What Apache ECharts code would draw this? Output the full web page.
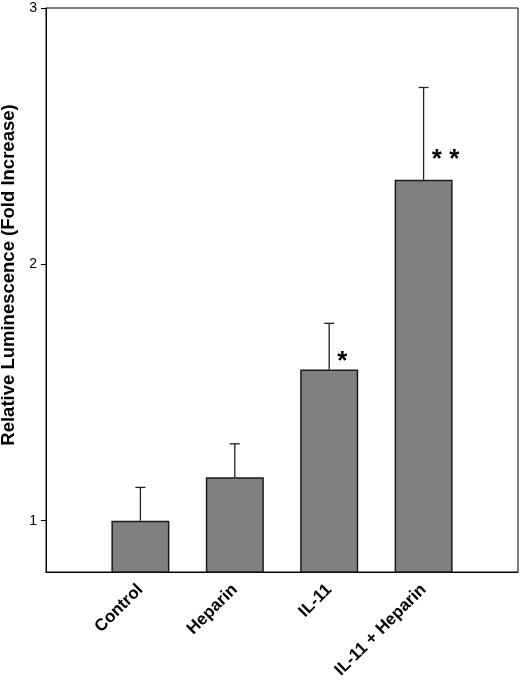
<!DOCTYPE html>
<html>
<head>
<meta charset="utf-8">
<script src="https://cdn.jsdelivr.net/npm/echarts@6/dist/echarts.min.js"></script>
<style>
  html, body { margin: 0; padding: 0; background: #fff; }
  #chart { width: 520px; height: 686px; }
</style>
</head>
<body>
<div id="chart"></div>
<script>
// empty slots at both ends so the four bars sit on inner ticks
var categories = ['', 'Control', 'Heparin', 'IL-11', 'IL-11 + Heparin', ''];
var means = [null, 1.00, 1.17, 1.59, 2.33, null];
var upperErr = [null, 0.13, 0.13, 0.18, 0.36, null];
var sigMarks = [null, null, null, '*', '* *', null];
var sigLevel = [null, null, null, 1.65, 2.44, null];
var yTicks = [1, 2, 3];

(function() {
  var myChart = echarts.init(document.getElementById('chart'));
  var font = 'Liberation Sans, Arial, sans-serif';

  var errData = [];
  var sigData = [];
  for (var i = 0; i < categories.length; i++) {
    if (means[i] != null) {
      errData.push([i, means[i], means[i] + upperErr[i]]);
    }
    if (sigMarks[i] != null) {
      sigData.push([i, sigLevel[i], sigMarks[i]]);
    }
  }

  var option = {
    animation: false,
    backgroundColor: '#fff',
    grid: {
      left: 46,
      right: 2,
      top: 8,
      bottom: 114,
      outerBoundsMode: 'none',
      containLabel: false,
      show: true,
      borderColor: '#000',
      borderWidth: 1
    },
    xAxis: {
      type: 'category',
      data: categories,
      boundaryGap: false,
      axisLine: { lineStyle: { color: '#000', width: 1 } },
      axisTick: { show: false },
      axisLabel: {
        interval: 0,
        rotate: 45,
        margin: 15,
        padding: [20, 0, 0, 0],
        color: '#000',
        fontFamily: font,
        fontWeight: 'bold',
        fontSize: 17
      },
      splitLine: { show: false }
    },
    yAxis: {
      type: 'value',
      min: 0.8,
      max: 3,
      name: 'Relative Luminescence (Fold Increase)',
      nameLocation: 'middle',
      nameGap: 27,
      nameTextStyle: {
        color: '#000',
        fontFamily: font,
        fontWeight: 'bold',
        fontSize: 18.5,
        padding: [0, 0, 0, 30]
      },
      axisLine: { show: true, lineStyle: { color: '#000', width: 1 } },
      axisTick: { show: true, length: 5, customValues: yTicks, lineStyle: { color: '#000' } },
      axisLabel: {
        customValues: yTicks,
        margin: 9,
        color: '#000',
        fontFamily: font,
        fontSize: 14
      },
      splitLine: { show: false }
    },
    series: [
      {
        type: 'bar',
        data: means,
        barWidth: 58,
        itemStyle: {
          color: '#808080',
          borderColor: '#1a1a1a',
          borderWidth: 1.5
        }
      },
      {
        type: 'custom',
        data: errData,
        z: 5,
        renderItem: function(params, api) {
          var lo = api.coord([api.value(0), api.value(1)]);
          var hi = api.coord([api.value(0), api.value(2)]);
          var style = { stroke: '#222', lineWidth: 1.3 };
          return {
            type: 'group',
            children: [
              { type: 'line', shape: { x1: lo[0], y1: lo[1], x2: hi[0], y2: hi[1] }, style: style },
              { type: 'line', shape: { x1: hi[0] - 5, y1: hi[1], x2: hi[0] + 5, y2: hi[1] }, style: style }
            ]
          };
        }
      },
      {
        type: 'custom',
        data: sigData,
        z: 6,
        renderItem: function(params, api) {
          var p = api.coord([api.value(0), api.value(1)]);
          var mark = sigData[params.dataIndex][2];
          return {
            type: 'text',
            x: p[0] + (mark.length > 1 ? 22 : 13),
            y: p[1] + 8,
            style: {
              text: mark,
              fill: '#000',
              font: 'bold 26px ' + font,
              align: 'center',
              verticalAlign: 'middle'
            }
          };
        }
      }
    ]
  };

  myChart.setOption(option);
})();
</script>
</body>
</html>
